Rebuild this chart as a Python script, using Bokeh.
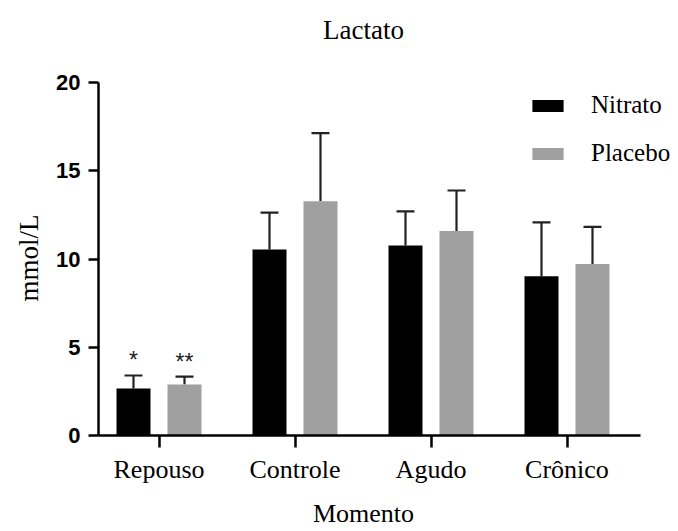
import math
from bokeh.plotting import figure
from bokeh.models import (ColumnDataSource, Range1d, FixedTicker, Whisker, Label,
                          Legend, LegendItem)
from bokeh.core.properties import value
from bokeh.embed import file_html
from bokeh.resources import INLINE

categories = ["Repouso", "Controle", "Agudo", "Crônico"]
nitrato_mean = [2.66, 10.54, 10.76, 9.02]
nitrato_upper = [3.40, 12.63, 12.70, 12.08]
placebo_mean = [2.89, 13.27, 11.58, 9.72]
placebo_upper = [3.34, 17.13, 13.88, 11.82]
y_ticks = [0, 5, 10, 15, 20]
sig_marks_nitrato = ["*", "", "", ""]
sig_marks_placebo = ["**", "", "", ""]

SERIF = "Liberation Serif"
SANS = "Liberation Sans"
BLACK = "#000000"
GRAY = "#a0a0a0"

xc = list(range(len(categories)))
off = 0.1875
bw = 0.25

W, H = 670, 531
PX_X, PX_Y = 136.0, 17.65   # pixels per data unit
X0_PX, Y0_PX = 158.5, 435.0  # pixel position of x=0, y=0

p = figure(width=W, height=H, output_backend="svg", toolbar_location=None,
           title=None,
           x_range=Range1d(-X0_PX / PX_X, (W - X0_PX) / PX_X),
           y_range=Range1d(-(H - Y0_PX) / PX_Y, Y0_PX / PX_Y),
           min_border=0)
p.outline_line_color = None
p.xgrid.visible = False
p.ygrid.visible = False
p.background_fill_color = "white"
p.border_fill_color = "white"

src_n = ColumnDataSource(dict(x=[c - off for c in xc], top=nitrato_mean,
                              upper=nitrato_upper, base=nitrato_mean,
                              lab=sig_marks_nitrato,
                              ly=[u + 0.85 for u in nitrato_upper]))
src_p = ColumnDataSource(dict(x=[c + off for c in xc], top=placebo_mean,
                              upper=placebo_upper, base=placebo_mean,
                              lab=sig_marks_placebo,
                              ly=[u + 0.85 for u in placebo_upper]))

for src in (src_n, src_p):
    w = Whisker(base="x", upper="upper", lower="base", source=src,
                line_color="#222222", line_width=2.2, level="underlay")
    w.upper_head.size = 18
    w.upper_head.line_width = 2.2
    w.upper_head.line_color = "#222222"
    w.lower_head = None
    p.add_layout(w)

rn = p.vbar(x="x", top="top", width=bw, source=src_n, fill_color=BLACK,
            line_color=None)
rp = p.vbar(x="x", top="top", width=bw, source=src_p, fill_color=GRAY,
            line_color=None)

for src in (src_n, src_p):
    p.text(x="x", y="ly", text="lab", source=src, text_align="center",
           text_baseline="middle", text_font=value(SANS),
           text_font_size="23px", text_color="#222222")

# axes
for ax in (p.xaxis[0], p.yaxis[0]):
    ax.axis_line_width = 2.5
    ax.axis_line_color = BLACK
    ax.major_tick_line_width = 2.5
    ax.major_tick_line_color = BLACK
    ax.major_tick_in = 0
    ax.minor_tick_line_color = None

x_left = -0.445
p.yaxis.fixed_location = x_left
p.yaxis.bounds = (0, 20)
p.yaxis.ticker = FixedTicker(ticks=y_ticks)
p.yaxis.major_tick_out = 10
p.yaxis.major_label_standoff = 8
p.yaxis.major_label_text_font = SANS
p.yaxis.major_label_text_font_style = "bold"
p.yaxis.major_label_text_font_size = "22px"
p.yaxis.major_label_text_color = BLACK

p.xaxis.fixed_location = 0
p.xaxis.bounds = (x_left, 3.54)
p.xaxis.ticker = FixedTicker(ticks=xc)
p.xaxis.major_label_overrides = {i: c for i, c in zip(xc, categories)}
p.xaxis.major_tick_out = 12
p.xaxis.major_label_standoff = 7
p.xaxis.major_label_text_font = SERIF
p.xaxis.major_label_text_font_size = "26px"
p.xaxis.major_label_text_color = BLACK

p.add_layout(Label(x=(363 - X0_PX) / PX_X, y=(Y0_PX - 29) / PX_Y,
                   text="Lactato", text_align="center",
                   text_baseline="middle", text_font=SERIF,
                   text_font_size="27px", text_color=BLACK))
p.add_layout(Label(x=(363 - X0_PX) / PX_X, y=(Y0_PX - 513) / PX_Y,
                   text="Momento", text_align="center",
                   text_baseline="middle", text_font=SERIF,
                   text_font_size="26px", text_color=BLACK))
p.add_layout(Label(x=(28 - X0_PX) / PX_X, y=(Y0_PX - 257.5) / PX_Y,
                   text="mmol/L", text_align="center", angle=math.pi / 2,
                   text_baseline="middle", text_font=SERIF,
                   text_font_size="27px", text_color=BLACK))

legend = Legend(items=[LegendItem(label="Nitrato", renderers=[rn]),
                       LegendItem(label="Placebo", renderers=[rp])],
                location=(528, 364), glyph_width=39, glyph_height=15,
                label_text_font=SERIF, label_text_font_size="25px",
                label_text_color=BLACK, label_standoff=24, spacing=20,
                padding=0, margin=0, border_line_color=None,
                background_fill_alpha=0)
p.add_layout(legend)

open("out.html", "w").write(file_html(p, INLINE))
